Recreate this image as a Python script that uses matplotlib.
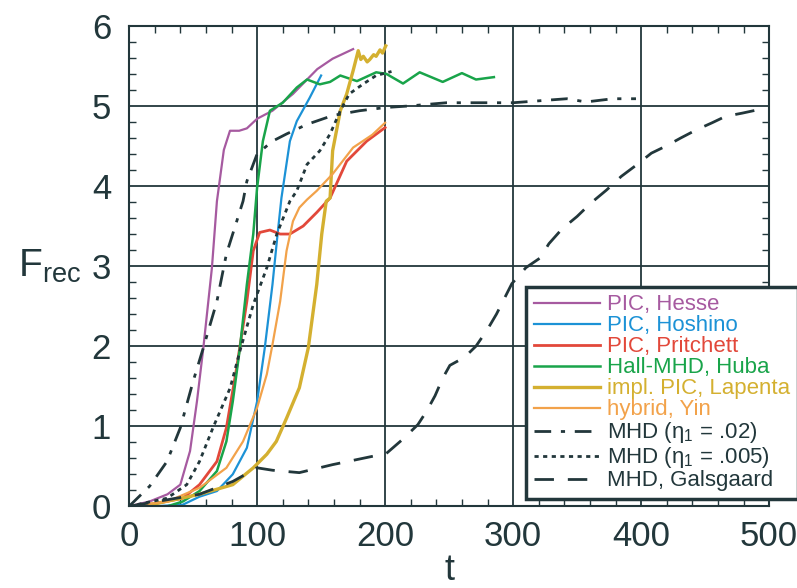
import numpy as np
import matplotlib
matplotlib.use('Agg')
from matplotlib import pyplot as plt
from matplotlib.ticker import MultipleLocator

plt.rcParams['font.family'] = ['Liberation Sans', 'DejaVu Sans']
plt.rcParams['mathtext.fontset'] = 'custom'
plt.rcParams['mathtext.rm'] = 'Liberation Sans'

# 数据
t_hesse = [0, 16, 30, 40, 47.6, 53, 58, 64.7, 68.6, 74, 78.8, 86, 92, 100, 112, 128, 147, 159, 175]
f_hesse = [0, 0.06, 0.15, 0.27, 0.69, 1.31, 1.98, 2.98, 3.81, 4.45, 4.69, 4.69, 4.72, 4.84, 4.94, 5.15, 5.46, 5.59, 5.71]

t_hoshino = [0, 20, 42, 55, 68.6, 81, 92, 100, 106, 112, 116, 119, 125.6, 131, 141, 150]
f_hoshino = [0, 0.0, 0.02, 0.12, 0.19, 0.4, 0.73, 1.31, 1.98, 2.77, 3.4, 3.85, 4.56, 4.81, 5.1, 5.38]

t_pritchett = [0, 16, 42, 55, 68.6, 76, 84, 92, 97, 102, 110, 118, 125.6, 136, 146.6, 157, 170, 185.6, 200]
f_pritchett = [0, 0.02, 0.1, 0.27, 0.56, 0.98, 1.73, 2.56, 3.19, 3.42, 3.45, 3.4, 3.4, 3.5, 3.67, 3.85, 4.31, 4.56, 4.73]

t_huba = [0, 30, 42, 55, 68.6, 76, 81, 86.6, 92, 97, 100, 104.5, 110, 120, 131, 139, 149, 157, 165, 178,
          193, 201, 214, 227, 245, 260, 271, 285]
f_huba = [0, 0, 0.06, 0.19, 0.44, 0.81, 1.31, 1.98, 2.77, 3.4, 3.98, 4.56, 4.94, 5.04, 5.23, 5.33, 5.27, 5.3, 5.38, 5.31,
          5.42, 5.4, 5.28, 5.42, 5.3, 5.41, 5.33, 5.36]

t_lapenta = [0, 20, 55, 81, 97, 107.6, 115, 123, 133, 140, 146.6, 150.5, 154, 157, 159, 165, 170, 175, 179,
             181, 183, 186, 188, 191, 193, 196, 198, 200.5]
f_lapenta = [0, 0.03, 0.15, 0.27, 0.48, 0.65, 0.81, 1.1, 1.48, 1.98, 2.77, 3.4, 3.81, 3.85, 4.44, 4.94, 5.15, 5.44, 5.69,
             5.58, 5.62, 5.55, 5.58, 5.64, 5.62, 5.7, 5.66, 5.75]

t_yin = [0, 30, 55, 76, 89, 100, 107.6, 112, 118, 123, 128, 133, 139, 146.6, 159, 175, 190, 200]
f_yin = [0, 0.06, 0.23, 0.48, 0.81, 1.23, 1.65, 2.02, 2.56, 3.19, 3.56, 3.73, 3.83, 3.94, 4.15, 4.48, 4.64, 4.79]

t_mhd02 = [0, 16, 29.6, 40, 50, 58, 68.6, 76, 89, 92, 100, 112, 123, 139, 159, 180, 200, 219, 248, 300, 342, 357, 378, 396]
f_mhd02 = [0, 0.25, 0.56, 0.98, 1.56, 1.98, 2.56, 3.15, 3.81, 4.06, 4.4, 4.56, 4.65, 4.77, 4.88, 4.94, 4.98, 5.0, 5.04,
           5.04, 5.09, 5.05, 5.09, 5.09]

t_mhd005 = [0, 29.6, 45, 55, 65.5, 79, 86.6, 97, 107.6, 115.4, 125.6, 131, 139, 149, 157, 165, 172, 182.5, 193, 205]
f_mhd005 = [0, 0.1, 0.27, 0.56, 0.98, 1.48, 1.94, 2.52, 2.98, 3.4, 3.81, 3.94, 4.27, 4.44, 4.65, 4.94, 5.15, 5.27, 5.38, 5.43]

t_gals = [0, 55, 81, 100, 112, 133, 159, 198, 201, 214, 225.6, 232.5, 239, 245, 250.6, 262, 271, 280, 287, 293, 299,
          310, 321, 328, 338, 350, 361, 373, 384.5, 397, 408, 419.6, 431, 443, 455.5, 466, 479, 490.6]
f_gals = [0, 0.15, 0.31, 0.48, 0.45, 0.42, 0.52, 0.65, 0.66, 0.84, 1.02, 1.19, 1.38, 1.6, 1.76, 1.86, 2.0, 2.21, 2.4, 2.59, 2.78,
          2.98, 3.1, 3.28, 3.46, 3.62, 3.79, 3.95, 4.12, 4.27, 4.41, 4.5, 4.6, 4.7, 4.79, 4.87, 4.91, 4.95]

dark = '#22373b'
c_hesse = '#a65aa0'
c_hoshino = '#1c92d6'
c_pritchett = '#e2483a'
c_huba = '#19a44a'
c_lapenta = '#d4b030'
c_yin = '#f2a24a'

fig = plt.figure(figsize=(7.97, 5.88), dpi=100)
ax = fig.add_axes([0.162, 0.139, 0.803, 0.817])

ax.plot(t_hesse, f_hesse, color=c_hesse, lw=1.6, label='PIC, Hesse')
ax.plot(t_hoshino, f_hoshino, color=c_hoshino, lw=1.6, label='PIC, Hoshino')
ax.plot(t_pritchett, f_pritchett, color=c_pritchett, lw=2.0, label='PIC, Pritchett')
ax.plot(t_huba, f_huba, color=c_huba, lw=1.8, label='Hall-MHD, Huba')
ax.plot(t_lapenta, f_lapenta, color=c_lapenta, lw=2.4, label='impl. PIC, Lapenta')
ax.plot(t_yin, f_yin, color=c_yin, lw=1.6, label='hybrid, Yin')
ax.plot(t_mhd02, f_mhd02, color=dark, lw=2.0, ls=(0, (6, 3.5, 1.5, 3.5)),
        label=r'MHD ($\mathregular{\eta_1}$ = .02)')
ax.plot(t_mhd005, f_mhd005, color=dark, lw=2.0, ls=(0, (1.5, 1.6)),
        label=r'MHD ($\mathregular{\eta_1}$ = .005)')
ax.plot(t_gals, f_gals, color=dark, lw=2.0, ls=(0, (7, 5)), label='MHD, Galsgaard')

ax.set_xlim(0, 500)
ax.set_ylim(0, 6)
ax.xaxis.set_major_locator(MultipleLocator(100))
ax.xaxis.set_minor_locator(MultipleLocator(20))
ax.yaxis.set_major_locator(MultipleLocator(1))
ax.yaxis.set_minor_locator(MultipleLocator(0.2))
ax.grid(True, which='major', color=dark, lw=1.3)
ax.tick_params(which='both', direction='in', top=True, right=True, colors=dark, labelcolor=dark)
ax.tick_params(which='major', length=0, labelsize=25)
ax.tick_params(axis='x', which='major', pad=10)
ax.tick_params(axis='y', which='major', pad=13)
ax.tick_params(which='minor', length=5, width=1)
for s in ax.spines.values():
    s.set_color(dark)
    s.set_linewidth(1.5)

ax.set_xlabel('t', fontsize=26, color=dark, labelpad=0)
ax.set_ylabel(r'$\mathregular{F_{rec}}$', fontsize=28, color=dark, rotation=0, labelpad=30, va='center')

leg = ax.legend(loc='lower right', bbox_to_anchor=(1.045, 0.015), borderaxespad=0, fontsize=16,
                handlelength=3.0, handletextpad=0.3, labelspacing=0.0, borderpad=0.35, frameon=True,
                fancybox=False, framealpha=1, edgecolor=dark)
leg.get_frame().set_linewidth(2.5)
for text, line in zip(leg.get_texts(), leg.get_lines()):
    text.set_color(line.get_color())

fig.savefig('out.png', dpi=100)
